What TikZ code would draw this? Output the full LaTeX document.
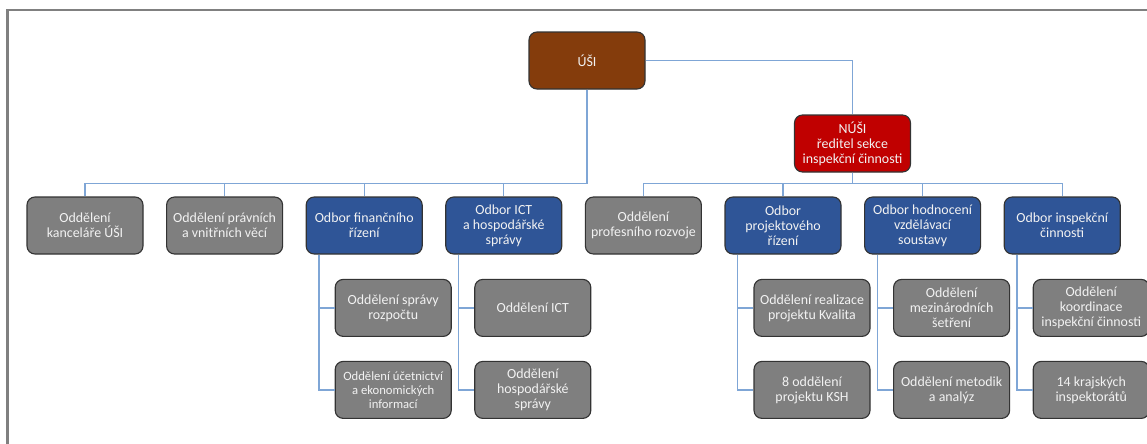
\documentclass[tikz,border=0pt]{standalone}
\usepackage{fontspec}
\setmainfont{Carlito}
\usepackage{tikz}
\definecolor{brownbox}{HTML}{843C0C}
\definecolor{redbox}{HTML}{C00000}
\definecolor{bluebox}{HTML}{2F5597}
\definecolor{greybox}{HTML}{7F7F7F}
\definecolor{linkblue}{HTML}{7FA6D6}
\definecolor{framegrey}{HTML}{808080}

\begin{document}
\begin{tikzpicture}[node distance = 3.49cm, auto,
    box/.style={rectangle, draw=black!80, line width=0.8pt, text=white!95!black, minimum width=2.9cm, minimum height=1.425cm, align=center, rounded corners=0.2cm, inner sep=1pt, font=\fontsize{9.9}{10.7}\selectfont},
    odd/.style={box, fill=greybox},
    odbor/.style={box, fill=bluebox},
    conn/.style={draw=linkblue, line width=0.9pt}]
    \useasboundingbox (0,0) rectangle (28.675,-11.075);
    \draw [framegrey, line width=1.5pt] (0.1875,-11.3) -- (0.1875,-0.25) -- (28.9,-0.25);

    % Place nodes
    \node [box, fill=brownbox] (usi) at (14.675,-1.5125) {ÚŠI};
    \node [box, fill=redbox] (nusi) at (21.3125,-3.5875) {NÚŠI\\ředitel sekce\\inspekční činnosti};

    \node [odd] (kanc) at (2.125,-5.6375) {Oddělení\\kanceláře ÚŠI};
    \node [odd, right of=kanc] (prav) {Oddělení právních\\a vnitřních věcí};
    \node [odbor, right of=prav] (fin) {Odbor finančního\\řízení};
    \node [odbor, right of=fin] (ict) {Odbor ICT\\a hospodářské\\správy};
    \node [odd, right of=ict] (prof) {Oddělení\\profesního rozvoje};
    \node [odbor, right of=prof] (proj) {Odbor\\projektového\\řízení};
    \node [odbor, right of=proj] (hodn) {Odbor hodnocení\\vzdělávací\\soustavy};
    \node [odbor, right of=hodn] (insp) {Odbor inspekční\\činnosti};

    \node [odd, below of=fin, node distance=2.06cm, xshift=0.725cm] (rozp) {Oddělení správy\\rozpočtu};
    \node [odd, below of=rozp, node distance=2.05cm, font=\fontsize{9}{10}\selectfont] (ucet) {Oddělení účetnictví\\a ekonomických\\informací};
    \node [odd, below of=ict, node distance=2.06cm, xshift=0.725cm] (ictodd) {Oddělení ICT};
    \node [odd, below of=ictodd, node distance=2.05cm] (hosp) {Oddělení\\hospodářské\\správy};
    \node [odd, below of=proj, node distance=2.06cm, xshift=0.725cm] (kval) {Oddělení realizace\\projektu Kvalita};
    \node [odd, below of=kval, node distance=2.05cm] (ksh) {8 oddělení\\projektu KSH};
    \node [odd, below of=hodn, node distance=2.06cm, xshift=0.725cm] (mezi) {Oddělení\\mezinárodních\\šetření};
    \node [odd, below of=mezi, node distance=2.05cm] (metod) {Oddělení metodik\\a analýz};
    \node [odd, below of=insp, node distance=2.06cm, xshift=0.725cm] (koord) {Oddělení\\koordinace\\inspekční činnosti};
    \node [odd, below of=koord, node distance=2.05cm] (kraj) {14 krajských\\inspektorátů};

    % Connect nodes
    \draw [conn] (usi.east) -| (nusi.north);
    \foreach \n in {kanc,prav,fin,ict}
        \draw [conn] (usi.south) |- ([yshift=3.2mm]\n.north) -- (\n.north);
    \foreach \n in {prof,proj,hodn,insp}
        \draw [conn] (nusi.south) |- ([yshift=3.2mm]\n.north) -- (\n.north);
    \foreach \p/\a/\b in {fin/rozp/ucet, ict/ictodd/hosp, proj/kval/ksh, hodn/mezi/metod, insp/koord/kraj} {
        \draw [conn] ([xshift=-1.13cm]\p.south) |- (\a.west);
        \draw [conn] ([xshift=-1.13cm]\p.south) |- (\b.west);
    }
\end{tikzpicture}
\end{document}
